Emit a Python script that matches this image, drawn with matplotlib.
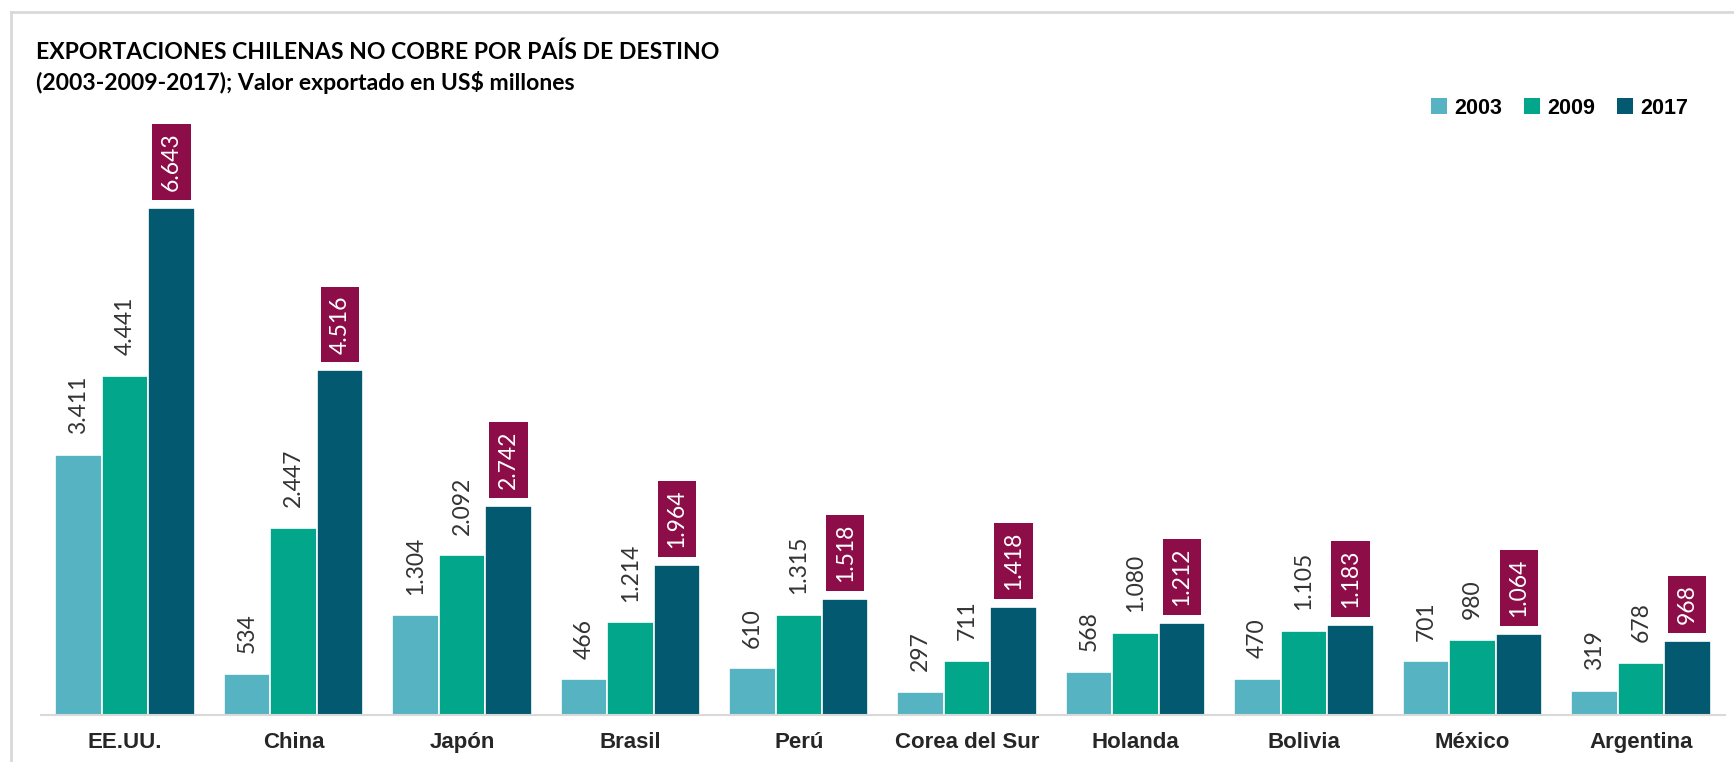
import matplotlib.pyplot as plt
import numpy as np
from matplotlib.lines import Line2D
from matplotlib.patches import Patch

paises = ['EE.UU.', 'China', 'Japón', 'Brasil', 'Perú', 'Corea del Sur',
          'Holanda', 'Bolivia', 'México', 'Argentina']
anios = ['2003', '2009', '2017']
v2003 = [3411, 534, 1304, 466, 610, 297, 568, 470, 701, 319]
v2009 = [4441, 2447, 2092, 1214, 1315, 711, 1080, 1105, 980, 678]
v2017 = [6643, 4516, 2742, 1964, 1518, 1418, 1212, 1183, 1064, 968]

colores = ['#56B4C2', '#02A78B', '#03596F']
granate = '#8C0D47'
gris_txt = '#333333'

def fmt(v):
    return f'{v:,}'.replace(',', '.')

fig = plt.figure(figsize=(17.34, 7.62), dpi=100)
ax = fig.add_axes([0.0236, 0.0617, 0.9712, 0.7520])

x = np.arange(len(paises))
w = 0.276
series = [v2003, v2009, v2017]
for i, vals in enumerate(series):
    pos = x + (i - 1) * w
    ax.bar(pos, vals, width=w, color=colores[i], edgecolor='white', linewidth=1.2, zorder=2)
    for px, v in zip(pos, vals):
        if i < 2:
            ax.annotate(fmt(v), (px, v), xytext=(0, 15), textcoords='offset points',
                        rotation=90, ha='center', va='bottom', fontsize=16.5,
                        family='Lato', color=gris_txt)
        else:
            ax.annotate(fmt(v), (px, v), xytext=(0, 12), textcoords='offset points',
                        rotation=90, ha='center', va='bottom', fontsize=16.5,
                        family='Lato', color='white',
                        bbox=dict(boxstyle='square,pad=0.38', fc=granate, ec='none'))

ax.set_xlim(-0.5, len(paises) - 0.5)
ax.set_ylim(0, 7510)
ax.set_yticks([])
ax.set_xticks(x)
ax.set_xticklabels(paises, fontsize=16, fontweight='bold', color='#262626',
                   family=['Liberation Sans Narrow', 'Liberation Sans'])
ax.tick_params(axis='x', length=0, pad=12)
for s in ['top', 'right', 'left']:
    ax.spines[s].set_visible(False)
ax.spines['bottom'].set_color('#d9d9d9')
ax.spines['bottom'].set_linewidth(1.5)

fig.text(0.0208, 0.923, 'EXPORTACIONES CHILENAS NO COBRE POR PAÍS DE DESTINO',
         fontsize=16.6, fontweight='bold', family='Lato', color='black', va='baseline')
fig.text(0.0208, 0.882, '(2003-2009-2017); Valor exportado en US$ millones',
         fontsize=16.6, fontweight='bold', family='Lato', color='black', va='baseline')

handles = [Patch(facecolor=c, edgecolor='none') for c in colores]
fig.legend(handles, anios, loc='center right', bbox_to_anchor=(0.985, 0.858), ncol=3,
           frameon=False, handlelength=0.75, handleheight=0.75, handletextpad=0.35,
           columnspacing=1.0,
           prop={'family': ['Liberation Sans Narrow', 'Liberation Sans'], 'weight': 'bold', 'size': 15.5})

# marco gris del gráfico
fig.add_artist(Line2D([11 / 1734, 11 / 1734], [0, 1 - 12 / 762], transform=fig.transFigure,
                      color='#d9d9d9', linewidth=2))
fig.add_artist(Line2D([11 / 1734, 1], [1 - 12 / 762, 1 - 12 / 762], transform=fig.transFigure,
                      color='#d9d9d9', linewidth=2))

fig.savefig('out.png', dpi=100)
